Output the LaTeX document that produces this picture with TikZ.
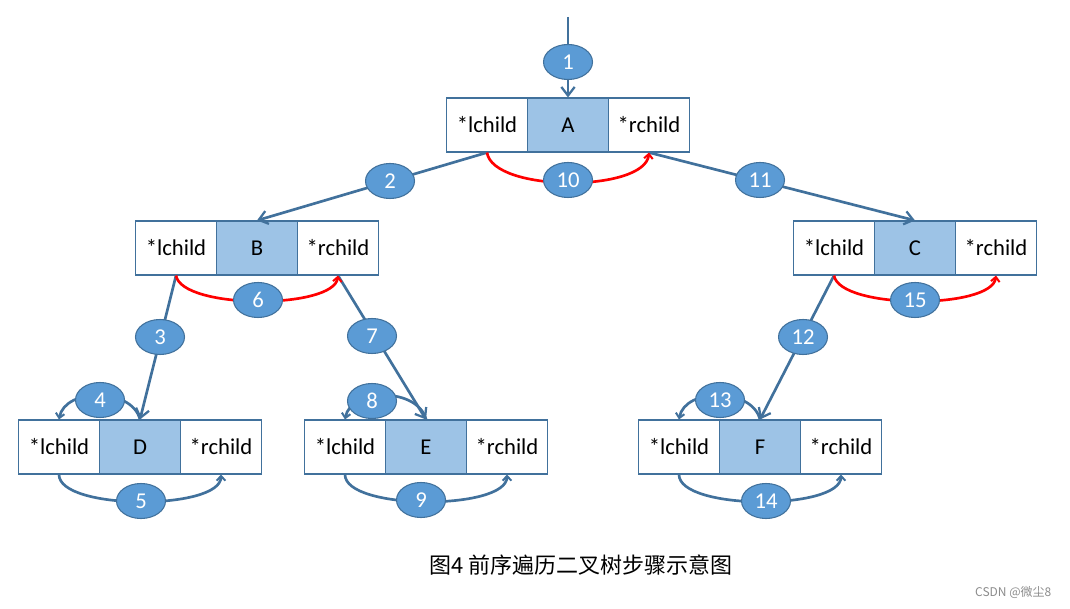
\documentclass[tikz,border=0pt]{standalone}
\usepackage{fontspec}
\setmainfont{Carlito}
\newfontfamily\cjk{Noto Sans CJK SC}
\usetikzlibrary{arrows.meta,shapes.geometric}
\definecolor{boxfill}{HTML}{9DC3E6}
\definecolor{linec}{HTML}{41719C}
\definecolor{ellfill}{HTML}{5B9BD5}
\definecolor{redc}{HTML}{FF0000}
\begin{document}
\begin{tikzpicture}[x=0.75pt,y=-0.75pt,
  cell/.style={draw=linec,line width=0.8pt,minimum width=60.75pt,minimum height=40.5pt,inner sep=0pt,font=\fontsize{17}{19}\selectfont},
  datacell/.style={cell,fill=boxfill},
  conn/.style={draw=linec,line width=2pt,-{Straight Barb[length=6.5pt,width=10pt,line width=1.7pt]}},
  loopc/.style={draw=linec,line width=2pt,-{Straight Barb[length=3.5pt,width=6.5pt,line width=1.5pt]}},
  redloop/.style={draw=redc,line width=2pt,-{Straight Barb[length=3.5pt,width=6.5pt,line width=1.5pt]}},
  numb/.style={ellipse,draw=linec,line width=0.8pt,fill=ellfill,text=white,minimum width=36.75pt,minimum height=26.25pt,inner sep=0pt,font=\fontsize{17}{19}\selectfont}
]
\useasboundingbox (0,0) rectangle (1070,609);
\fill[white] (0,0) rectangle (1070,609);

% nodes A..F
\foreach \n/\x/\y/\lab in {A/568/125/A,B/257/248/B,C/915/248/C,D/140/447/D,E/426/447/E,F/760/447/F}{
  \node[cell] (\n l) at (\x-81,\y) {*lchild};
  \node[datacell] (\n d) at (\x,\y) {\lab};
  \node[cell] (\n r) at (\x+81,\y) {*rchild};
}

\coordinate (top) at (568,17);
\draw[conn] (top) -- (Ad.north);
\draw[conn] (Al.south) -- (Bd.north);
\draw[conn] (Ar.south) -- (Cd.north);
\draw[conn] (Bl.south) -- (Dd.north);
\draw[conn] (Br.south) -- (Ed.north);
\draw[conn] (Cl.south) -- (Fd.north);

% red loops
\draw[redloop] (Al.south) .. controls +(6,40) and +(-4,40) .. (Ar.south);
\draw[redloop] (Bl.south) .. controls +(6,34) and +(-4,34) .. (Br.south);
\draw[redloop] (Cl.south) .. controls +(6,34) and +(-4,34) .. (Cr.south);

% bottom loops
\draw[loopc] (Dl.south) .. controls +(0,36) and +(0,36) .. (Dr.south);
\draw[loopc] (El.south) .. controls +(0,36) and +(0,36) .. (Er.south);
\draw[loopc] (Fl.south) .. controls +(0,36) and +(0,36) .. (Fr.south);

% top loops
\draw[loopc] (Dd.north) .. controls +(-8,-32) and +(6,-32) .. (Dl.north);
\draw[loopc] (Ed.north) .. controls +(-8,-32) and +(6,-32) .. (El.north);
\draw[loopc] (Fd.north) .. controls +(-8,-32) and +(6,-32) .. (Fl.north);

% numbered ellipses
\node[numb] (e1) at (568,62) {1};
\node[numb] (e2) at (390,181) {2};
\node[numb] (e3) at (160,337) {3};
\node[numb] (e4) at (100,400) {4};
\node[numb] (e5) at (141,501) {5};
\node[numb] (e6) at (258,300) {6};
\node[numb] (e7) at (372,336) {7};
\node[numb] (e8) at (372,401) {8};
\node[numb] (e9) at (421,500) {9};
\node[numb] (e10) at (568,180) {10};
\node[numb] (e11) at (760,180) {11};
\node[numb] (e12) at (803,337) {12};
\node[numb] (e13) at (720,400) {13};
\node[numb] (e14) at (766,501) {14};
\node[numb] (e15) at (915,300) {15};

\node[font={\cjk\fontsize{16.5}{18}\selectfont}] (cap) at (581,565) {图4 前序遍历二叉树步骤示意图};
\node[font={\cjk\fontsize{9}{10}\selectfont},text=black!45,anchor=east] (wm) at (1056,592) {CSDN @微尘8};
\end{tikzpicture}
\end{document}
